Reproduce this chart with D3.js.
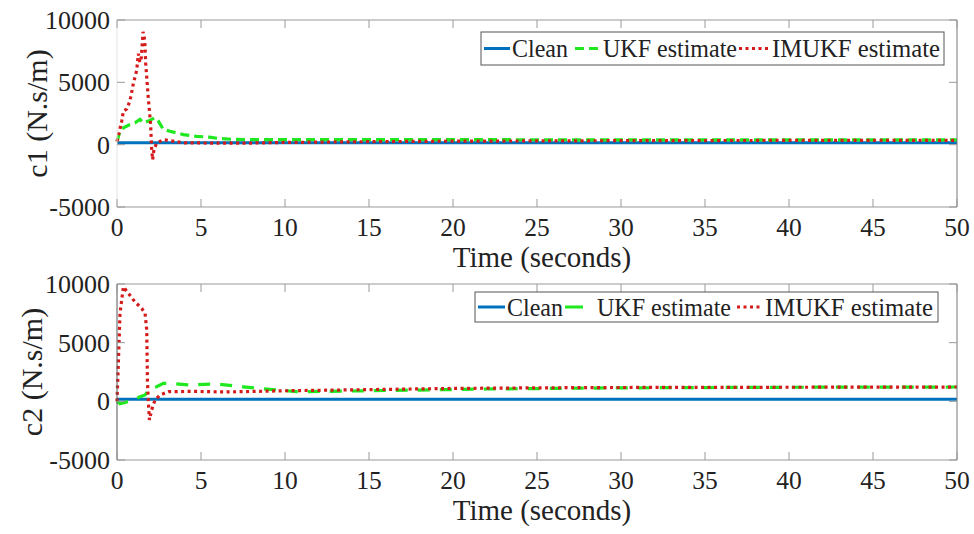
<!DOCTYPE html>
<html>
<head>
<meta charset="utf-8">
<script src="https://cdn.jsdelivr.net/npm/d3@7"></script>
</head>
<body style="margin:0;background:#fff">
<div id="chart"></div>
<script>
// time axis ticks and y ticks
var xTicks=[0,5,10,15,20,25,30,35,40,45,50];
var yTicks=[-5000,0,5000,10000];

// c1 panel
var c1CleanT=[0,50], c1CleanV=[150,150];
var c1UkfT=[0,0.18,0.38,0.77,1.07,1.37,1.55,1.86,2.26,2.46,2.76,3.15,3.95,4.74,5.5,6.1,7,10,20,30,40,50];
var c1UkfV=[250,1080,1350,1620,1750,2030,1750,1890,2160,1890,1220,1080,810,670,600,490,420,400,400,390,380,380];
var c1ImT=[0,0.28,0.38,0.58,0.77,0.97,1.17,1.27,1.36,1.45,1.55,1.65,1.71,1.86,2.0,2.06,2.12,2.2,2.36,2.76,4,6,8,10,15,20,25,30,40,50];
var c1ImV=[250,1890,2700,2860,3500,4870,5950,7300,6600,7000,9050,8400,6500,3780,1620,-270,-1200,-400,130,400,150,120,130,180,240,280,300,320,340,350];

// c2 panel
var c2CleanT=[0,50], c2CleanV=[170,170];
var c2UkfT=[0,0.18,0.58,0.97,1.37,1.67,1.96,2.36,2.76,3.15,4.35,5.9,7.5,9.1,10.7,15,22,30,40,50];
var c2UkfV=[0,-200,-50,110,390,540,1110,1240,1530,1530,1390,1480,1240,1020,820,900,1050,1150,1200,1220];
var c2ImT=[0,0.08,0.18,0.38,0.68,1.07,1.47,1.67,1.77,1.81,1.87,1.93,2.06,2.26,2.56,3.06,4.5,6.5,10,15,20,25,30,40,50];
var c2ImV=[0,3240,7500,9760,9200,8480,7920,7500,6070,1810,-170,-1590,-740,110,540,820,850,800,900,1000,1100,1150,1180,1200,1220];

var FONT="'Liberation Serif'";

var svg=d3.select("#chart").append("svg")
    .attr("width",974).attr("height",534);

var zip=function(t,v){return t.map((d,i)=>[d,v[i]]);};

function txt(g,x,y,size,s){
    return g.append("text").attr("x",x).attr("y",y)
        .style("font-family",FONT).attr("font-size",size)
        .attr("fill","#222").text(s);
}

function panel(o){
    var x=d3.scaleLinear().domain([0,50]).range([117,957]);
    var y=d3.scaleLinear().domain([-5000,10000]).range([o.bottom,o.top]);
    var g=svg.append("g");

    var line=d3.line().x(d=>x(d[0])).y(d=>y(d[1]));

    g.append("path").datum(zip(o.clean[0],o.clean[1]))
        .attr("d",line).attr("fill","none")
        .attr("stroke","#0072BD").attr("stroke-width",3);
    g.append("path").datum(zip(o.ukf[0],o.ukf[1]))
        .attr("d",line).attr("fill","none")
        .attr("stroke","#1fe81f").attr("stroke-width",3.2)
        .attr("stroke-dasharray",o.dash);
    g.append("path").datum(zip(o.im[0],o.im[1]))
        .attr("d",line).attr("fill","none")
        .attr("stroke","#d41a1a").attr("stroke-width",3.2)
        .attr("stroke-dasharray","3,3.5");

    // box
    g.append("line").attr("x1",117).attr("x2",957).attr("y1",o.top).attr("y2",o.top).attr("stroke","#999");
    g.append("line").attr("x1",117).attr("x2",957).attr("y1",o.bottom).attr("y2",o.bottom).attr("stroke","#999");
    g.append("line").attr("x1",957).attr("x2",957).attr("y1",o.top).attr("y2",o.bottom).attr("stroke","#777");
    g.append("line").attr("x1",117).attr("x2",117).attr("y1",o.top).attr("y2",o.bottom).attr("stroke",o.leftColor);

    // ticks inward, matlab style
    xTicks.forEach(function(t){
        g.append("line").attr("x1",x(t)).attr("x2",x(t)).attr("y1",o.bottom).attr("y2",o.bottom-8).attr("stroke","#999");
        g.append("line").attr("x1",x(t)).attr("x2",x(t)).attr("y1",o.top).attr("y2",o.top+8).attr("stroke","#999");
        txt(g,x(t),o.bottom+29,25.5,t).attr("text-anchor","middle");
    });
    yTicks.forEach(function(v){
        g.append("line").attr("x1",117).attr("x2",125).attr("y1",y(v)).attr("y2",y(v)).attr("stroke","#999");
        g.append("line").attr("x1",957).attr("x2",949).attr("y1",y(v)).attr("y2",y(v)).attr("stroke","#999");
        txt(g,110,y(v)+9,26,v).attr("text-anchor","end");
    });

    txt(g,542,o.bottom+60,29,"Time (seconds)").attr("text-anchor","middle");
    txt(g,0,0,30,o.ylabel).attr("text-anchor","middle")
        .attr("transform","translate("+(o.ylabX)+","+((o.top+o.bottom)/2)+") rotate(-90)");

    // legend
    var L=o.legend;
    g.append("rect").attr("x",L.x).attr("y",L.y).attr("width",L.w).attr("height",L.h)
        .attr("fill","#fff").attr("stroke","#555").attr("stroke-width",1);
    var ly=L.y+L.h/2;
    var items=[
        {c:"#0072BD",d:null,x0:L.items[0][0],x1:L.items[0][1],tx:L.items[0][2],label:"Clean",w:56},
        {c:"#1fe81f",d:o.legDash,x0:L.items[1][0],x1:L.items[1][1],tx:L.items[1][2],label:"UKF estimate",w:134},
        {c:"#d41a1a",d:"3,3.5",x0:L.items[2][0],x1:L.items[2][1],tx:L.items[2][2],label:"IMUKF estimate",w:168}
    ];
    items.forEach(function(it){
        g.append("line").attr("x1",it.x0).attr("x2",it.x1).attr("y1",ly).attr("y2",ly)
            .attr("stroke",it.c).attr("stroke-width",3).attr("stroke-dasharray",it.d);
        txt(g,it.tx,ly+8.5,25,it.label)
            .attr("textLength",it.w)
            .attr("lengthAdjust","spacingAndGlyphs");
    });
}

panel({top:20,bottom:207,ylabel:"c1 (N.s/m)",ylabX:47,leftColor:"#e4e4e4",dash:"9,5",legDash:"9,5",
    clean:[c1CleanT,c1CleanV],ukf:[c1UkfT,c1UkfV],im:[c1ImT,c1ImV],
    legend:{x:481,y:32,w:463,h:33,items:[[484,510,512],[575,602,603],[739,770,772]]}});
panel({top:284,bottom:460,ylabel:"c2 (N.s/m)",ylabX:42,leftColor:"#555",dash:"12,10",legDash:"18,40",
    clean:[c2CleanT,c2CleanV],ukf:[c2UkfT,c2UkfV],im:[c2ImT,c2ImV],
    legend:{x:475,y:292,w:463,h:30,items:[[478,505,507],[565,583,597],[737,763,765]]}});
</script>
</body>
</html>
